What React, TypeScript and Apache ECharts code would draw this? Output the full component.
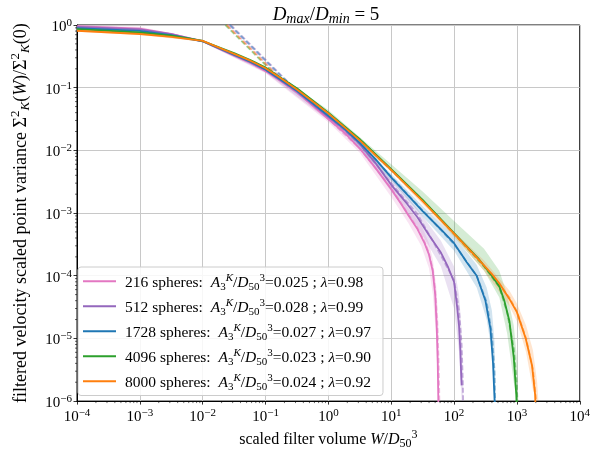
import React, { useEffect, useRef } from "react";
import * as echarts from "echarts";

type P = [number, number];
type B = [number, number, number];

const sphereCounts = ["216", "512", "1728", "4096", "8000"];
const a3kValues = ["0.025", "0.028", "0.027", "0.023", "0.024"];
const lambdaValues = ["0.98", "0.99", "0.97", "0.90", "0.92"];
const colors = ["#e377c2", "#9467bd", "#1f77b4", "#2ca02c", "#ff7f0e"];

const xTickValues = [1e-4, 1e-3, 1e-2, 1e-1, 1, 10, 100, 1000, 10000];
const yTickValues = [1e-6, 1e-5, 1e-4, 1e-3, 1e-2, 1e-1, 1];
const minorMultipliers = [2, 3, 4, 5, 6, 7, 8, 9];

// measured (solid) curves
const solid216: P[] = [[1e-4,0.955],[1e-3,0.871],[3.16e-3,0.724],[1e-2,0.55],[0.0316,0.324],[0.0562,0.251],[0.1,0.184],[0.178,0.126],[0.316,0.0841],[1,0.0316],[1.78,0.0195],[3.16,0.0107],[5.62,0.00525],[10,0.0024],[14.5,0.00138],[18.6,9.33e-4],[26.3,5.5e-4],[33.9,3.31e-4],[39.8,2.19e-4],[45.7,1.2e-4],[50.1,5.0e-5],[53.1,1.41e-5],[55,3.98e-6],[56.2,1e-6],[56.9,5e-7]];
const solid512: P[] = [[1e-4,0.933],[1e-3,0.851],[3.16e-3,0.716],[1e-2,0.55],[0.0316,0.331],[0.0562,0.257],[0.1,0.191],[0.178,0.129],[0.316,0.0871],[1,0.0339],[1.78,0.0219],[3.16,0.0126],[5.62,0.0063],[10,0.00282],[17.8,0.00141],[26.3,8.51e-4],[39.8,4.47e-4],[61.7,2.34e-4],[79.4,1.41e-4],[100,7.94e-5],[112,3.16e-5],[120,1.58e-5],[126,6.3e-6],[130,2.5e-6],[132,1.78e-6]];
const solid1728: P[] = [[1e-4,0.891],[1e-3,0.804],[3.16e-3,0.692],[1e-2,0.55],[0.0316,0.335],[0.0562,0.263],[0.1,0.195],[0.178,0.133],[0.316,0.0891],[1,0.0355],[1.78,0.0224],[3.16,0.0132],[5.62,0.00724],[10,0.00372],[31.6,0.00107],[60.3,5.62e-4],[100,3.31e-4],[158,1.66e-4],[229,1e-4],[316,3.98e-5],[380,1.41e-5],[417,3.98e-6],[442,1e-6],[447,5e-7]];
const solid4096: P[] = [[1e-4,0.861],[1e-3,0.759],[3.16e-3,0.676],[6e-3,0.61],[1e-2,0.556],[0.0316,0.355],[0.0562,0.279],[0.1,0.209],[0.178,0.143],[0.316,0.0977],[1,0.0398],[3.16,0.0151],[10,0.00501],[31.6,0.00162],[100,4.79e-4],[251,1.82e-4],[398,1e-4],[525,6.76e-5],[631,3.98e-5],[759,1.9e-5],[891,5e-6],[977,1.26e-6],[1012,5e-7]];
const solid8000: P[] = [[1e-4,0.809],[1e-3,0.719],[3.16e-3,0.646],[1e-2,0.557],[0.0316,0.347],[0.0562,0.272],[0.1,0.204],[0.178,0.14],[0.316,0.0933],[1,0.0389],[3.16,0.01445],[10,0.0049],[31.6,0.00155],[100,4.68e-4],[251,1.78e-4],[398,1.07e-4],[525,7.6e-5],[759,4.27e-5],[1000,2.63e-5],[1380,1e-5],[1740,3.7e-6],[1950,1.26e-6],[2000,5e-7]];

// model (dashed) curves
const model216: P[] = [[0.025,1],[0.1,0.25],[0.2,0.125],[0.316,0.0841],[1,0.0316],[3.16,0.0107],[10,0.0025],[18.6,9.6e-4],[26.3,5.7e-4],[33.9,3.5e-4],[39.8,2.3e-4],[45.7,1.3e-4],[50.1,6e-5],[54,1.8e-5],[56.5,5e-6],[58,1.5e-6],[58.8,5e-7]];
const model512: P[] = [[0.028,1],[0.1,0.28],[0.178,0.157],[0.316,0.09],[1,0.0339],[3.16,0.0125],[10,0.003],[26.3,9.5e-4],[39.8,4.6e-4],[61.7,2.1e-4],[100,8.5e-5],[120,2.8e-5],[132,8e-6],[138,2e-6],[141,5e-7]];
const model1728: P[] = [[0.027,1],[0.1,0.27],[0.178,0.152],[0.316,0.092],[1,0.0355],[3.16,0.0132],[10,0.0038],[31.6,0.0011],[100,3.2e-4],[229,1.0e-4],[330,3.8e-5],[400,1.2e-5],[440,3e-6],[455,5e-7]];
const model4096: P[] = [[0.023,1],[0.1,0.23],[0.15,0.155],[0.316,0.096],[1,0.039],[3.16,0.015],[10,0.0049],[31.6,0.0016],[100,4.7e-4],[300,1.4e-4],[525,6.6e-5],[700,2.6e-5],[891,7e-6],[1000,1.8e-6],[1040,5e-7]];
const model8000: P[] = [[0.024,1],[0.1,0.24],[0.15,0.16],[0.316,0.0925],[1,0.0385],[3.16,0.0145],[10,0.0048],[31.6,0.0016],[100,4.6e-4],[300,1.45e-4],[759,4.5e-5],[1000,2.7e-5],[1400,1.0e-5],[1800,3.2e-6],[2050,9e-7],[2100,5e-7]];

// spread bands [x, lower, upper]
const band216: B[] = [[1e-4,0.9,1.0],[1e-3,0.8,0.94],[1e-2,0.53,0.58],[0.1,0.17,0.2],[1,0.028,0.036],[3.16,0.0092,0.0125],[10,0.0018,0.003],[18.6,7e-4,1.2e-3],[30,3e-4,6.5e-4],[40,1.3e-4,3.3e-4],[46,5e-5,1.8e-4],[52,1e-5,7e-5],[56,1e-6,2e-5],[58,5e-7,2e-6]];
const band512: B[] = [[1e-4,0.87,0.98],[1e-3,0.79,0.9],[1e-2,0.53,0.57],[0.1,0.175,0.2],[1,0.03,0.037],[3.16,0.0108,0.0145],[10,0.0022,0.0037],[26.3,6e-4,1.15e-3],[61.7,1.4e-4,3.6e-4],[100,3e-5,1.4e-4],[120,6e-6,5e-5],[132,1e-6,1.3e-5],[140,5e-7,2e-6]];
const band1728: B[] = [[1e-4,0.85,0.93],[1e-3,0.77,0.84],[1e-2,0.53,0.57],[0.1,0.185,0.205],[1,0.033,0.038],[10,0.0033,0.0042],[31.6,8.8e-4,1.3e-3],[100,2.5e-4,4.3e-4],[229,6.5e-5,1.5e-4],[330,2e-5,6.5e-5],[400,6e-6,2.8e-5],[440,1e-6,9e-6],[460,5e-7,1.5e-6]];
const band4096: B[] = [[1e-4,0.82,0.9],[1e-3,0.72,0.8],[1e-2,0.54,0.58],[0.1,0.2,0.22],[1,0.037,0.044],[10,0.0046,0.006],[31.6,0.0015,0.0022],[100,4.2e-4,7.5e-4],[300,1.2e-4,2.7e-4],[525,4.5e-5,1.2e-4],[700,1.2e-5,5e-5],[891,2e-6,1.6e-5],[1000,5e-7,5e-6],[1050,5e-7,1e-6]];
const band8000: B[] = [[1e-4,0.78,0.84],[1e-3,0.69,0.75],[1e-2,0.54,0.58],[0.1,0.195,0.213],[1,0.036,0.041],[10,0.0045,0.0052],[100,4.2e-4,5.1e-4],[300,1.2e-4,1.75e-4],[759,3.3e-5,5.8e-5],[1000,1.9e-5,3.6e-5],[1400,6e-6,1.6e-5],[1800,1.5e-6,6.5e-6],[2100,5e-7,2e-6],[2200,5e-7,5e-7]];

const solids = [solid216, solid512, solid1728, solid4096, solid8000];
const models = [model216, model512, model1728, model4096, model8000];
const bands = [band216, band512, band1728, band4096, band8000];

const X_MIN = 1e-4, X_MAX = 1e4, Y_MIN = 1e-6, Y_MAX = 1;
const FONT = "Liberation Serif";

function expText(v: number) {
  const e = Math.round(Math.log10(v));
  const s = e < 0 ? "\u2212" + -e : String(e);
  return "{b|10}{sup|" + s + "}";
}

const labelRich = {
  b: { fontFamily: FONT, fontSize: 15, color: "#000", lineHeight: 17, verticalAlign: "bottom" },
  sup: { fontFamily: FONT, fontSize: 11, color: "#000", lineHeight: 12, verticalAlign: "top" },
};

const mathRich = (size: number) => ({
  n: { fontFamily: FONT, fontSize: size, color: "#000", lineHeight: size + 5 },
  i: { fontFamily: FONT, fontSize: size, fontStyle: "italic", color: "#000", lineHeight: size + 5 },
  sup: { fontFamily: FONT, fontSize: Math.round(size * 0.72), color: "#000", lineHeight: size - 3, verticalAlign: "top" },
  supi: { fontFamily: FONT, fontSize: Math.round(size * 0.72), fontStyle: "italic", color: "#000", lineHeight: size - 3, verticalAlign: "top" },
  sub: { fontFamily: FONT, fontSize: Math.round(size * 0.72), color: "#000", lineHeight: size - 3, verticalAlign: "bottom" },
  subi: { fontFamily: FONT, fontSize: Math.round(size * 0.72), fontStyle: "italic", color: "#000", lineHeight: size - 3, verticalAlign: "bottom" },
});

export default function App() {
  const ref = useRef<HTMLDivElement>(null);
  useEffect(() => {
    document.body.style.margin = "0";
    const chart = echarts.init(ref.current!, null, { renderer: "svg" });

    const series: any[] = [];
    bands.forEach((band, k) => {
      series.push({
        type: "custom",
        name: "band" + k,
        silent: true,
        z: 1,
        data: band.map((p) => [p[0], p[1], p[2]]),
        encode: { x: 0, y: [1, 2] },
        renderItem: (params: any, api: any) => {
          if (params.dataIndex !== 0) return null;
          const cl = (v: number) => Math.min(Y_MAX, Math.max(Y_MIN, v));
          const up = band.map((p) => api.coord([p[0], cl(p[2])]));
          const lo = band.map((p) => api.coord([p[0], cl(p[1])])).reverse();
          return {
            type: "polygon",
            shape: { points: up.concat(lo) },
            style: { fill: colors[k], opacity: 0.2 },
          };
        },
      });
    });
    models.forEach((m, k) => {
      series.push({
        type: "line",
        name: "model" + k,
        data: m,
        symbol: "none",
        silent: true,
        z: 2,
        lineStyle: { color: colors[k], width: 1.8, type: [5, 2.5], opacity: 0.5 },
      });
    });
    solids.forEach((s, k) => {
      series.push({
        type: "line",
        name: sphereCounts[k],
        data: s,
        symbol: "none",
        z: 3,
        color: colors[k],
        lineStyle: { color: colors[k], width: 1.8 },
      });
    });

    // minor ticks
    const minorX: number[][] = [];
    xTickValues.slice(0, -1).forEach((d) => minorMultipliers.forEach((m) => minorX.push([d * m, Y_MIN])));
    const minorY: number[][] = [];
    yTickValues.slice(0, -1).forEach((d) => minorMultipliers.forEach((m) => minorY.push([X_MIN, d * m])));
    series.push({
      type: "custom",
      name: "minorX",
      silent: true,
      data: minorX,
      encode: { x: 0, y: 1 },
      renderItem: (params: any, api: any) => {
        const p = api.coord([api.value(0), Y_MIN]);
        return { type: "line", shape: { x1: p[0], y1: p[1], x2: p[0], y2: p[1] + 2 }, style: { stroke: "#000", lineWidth: 0.6 } };
      },
    });
    series.push({
      type: "custom",
      name: "minorY",
      silent: true,
      data: minorY,
      encode: { x: 0, y: 1 },
      renderItem: (params: any, api: any) => {
        const p = api.coord([X_MIN, api.value(1)]);
        return { type: "line", shape: { x1: p[0] - 2, y1: p[1], x2: p[0], y2: p[1] }, style: { stroke: "#000", lineWidth: 0.6 } };
      },
    });

    const legendRich = mathRich(15.5);
    const option: any = {
      animation: false,
      grid: { left: 69, right: 11, top: 25, bottom: 51, show: true, borderColor: "#000", borderWidth: 1, backgroundColor: "transparent" },
      xAxis: {
        type: "log",
        logBase: 10,
        min: X_MIN,
        max: X_MAX,
        name: "{n|scaled filter volume }{i|W}{n|/}{i|D}{sub|50}{sup|3}",
        nameLocation: "middle",
        nameGap: 25,
        nameTextStyle: { rich: mathRich(16) },
        axisLine: { show: true, lineStyle: { color: "#000", width: 1 } },
        axisTick: { show: true, length: 3.5, inside: false, lineStyle: { color: "#000", width: 0.8 } },
        axisLabel: { formatter: (v: number) => expText(v), margin: 5, rich: labelRich, showMinLabel: true, showMaxLabel: true },
        splitLine: { show: true, lineStyle: { color: "#c8c8c8", width: 1 } },
        minorTick: { show: false },
      },
      yAxis: {
        type: "log",
        logBase: 10,
        min: Y_MIN,
        max: Y_MAX,
        name: "{n|filtered velocity scaled point variance }{n|\u03a3}{sup|2}{subi|K}{n|(}{i|W}{n|)/\u03a3}{sup|2}{subi|K}{n|(0)}",
        nameLocation: "middle",
        nameRotate: 90,
        nameGap: 46,
        nameTextStyle: { rich: mathRich(18) },
        axisLine: { show: true, lineStyle: { color: "#000", width: 1 } },
        axisTick: { show: true, length: 3.5, inside: false, lineStyle: { color: "#000", width: 0.8 } },
        axisLabel: { formatter: (v: number) => expText(v), margin: 5, rich: labelRich, showMinLabel: true, showMaxLabel: true },
        splitLine: { show: true, lineStyle: { color: "#c8c8c8", width: 1 } },
        minorTick: { show: false },
      },
      legend: {
        data: sphereCounts,
        orient: "vertical",
        left: 78,
        top: 267,
        padding: [4, 12, 4, 5],
        itemGap: 4.5,
        itemWidth: 33,
        itemHeight: 2,
        icon: "rect",
        backgroundColor: "rgba(255,255,255,0.85)",
        borderColor: "#cccccc",
        borderWidth: 1,
        borderRadius: 3,
        formatter: (name: string) => {
          const k = sphereCounts.indexOf(name);
          return (
            "{n|" + name + " spheres:  }{i|A}{sub|3}{supi|K}{n|/}{i|D}{sub|50}{sup|3}{n|=" +
            a3kValues[k] + " ; }{i|\u03bb}{n|=" + lambdaValues[k] + "}"
          );
        },
        textStyle: { rich: legendRich, padding: [0, 0, 0, 4] },
      },
      graphic: [
        {
          type: "text",
          x: 326,
          y: 1,
          style: {
            text: "{i|D}{subi|max}{n|/}{i|D}{subi|min}{n| = 5}",
            align: "center",
            rich: mathRich(19),
          },
        },
      ],
      series,
    };
    chart.setOption(option);
    return () => chart.dispose();
  }, []);
  return <div ref={ref} style={{ position: "fixed", left: 0, top: 0, width: 593, height: 454 }} />;
}
